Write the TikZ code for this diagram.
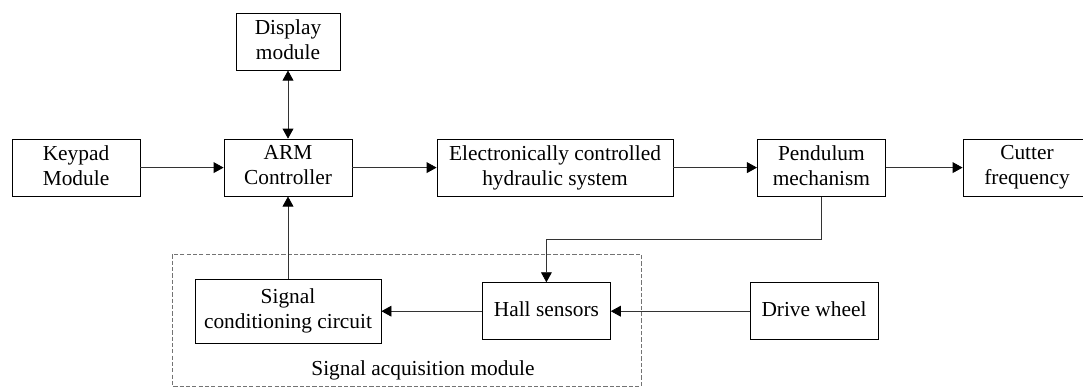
\documentclass[tikz,border=0pt]{standalone}
\usepackage{fontspec}
\setmainfont{Liberation Serif}
\usetikzlibrary{arrows.meta,positioning,calc}

\begin{document}
\begin{tikzpicture}[node distance=5.3cm,
    >={Triangle[length=0.25cm,width=0.27cm,color=black]},
    block/.style={rectangle, draw, line width=0.6pt, align=center, minimum width=3.2cm, minimum height=1.425cm, inner sep=2pt, font=\fontsize{15.2}{17.8}\selectfont, execute at end node=\vphantom{y}},
    link/.style={->, line width=0.6pt, draw=black!80},
    group/.style={draw=black!55, line width=0.6pt, dash pattern=on 3pt off 1.5pt}]
    \useasboundingbox (0,0) rectangle (27.075,-9.675);
    % main chain
    \node [block] (keypad) at (1.9,-4.19) {Keypad\\Module};
    \node [block, right of=keypad] (arm) {ARM\\Controller};
    \node [block, right of=arm, xshift=1.375cm, minimum width=5.9cm] (hydraulic) {Electronically controlled\\hydraulic system};
    \node [block, right of=hydraulic, xshift=1.36cm] (pendulum) {Pendulum\\mechanism};
    \node [block, right of=pendulum, xshift=-0.16cm] (cutter) {Cutter\\frequency};
    \node [block, node distance=3.15cm, above of=arm, minimum width=2.6cm] (display) {Display\\module};
    % feedback branch
    \node [block, node distance=3.59cm, below of=arm, minimum width=4.65cm, minimum height=1.6cm] (conditioning) {Signal\\conditioning circuit};
    \node [block, node distance=6.46cm, right of=conditioning] (hall) {Hall sensors};
    \node [block, node distance=6.69cm, right of=hall] (wheel) {Drive wheel};
    \draw[group] ($(conditioning.north west)+(-0.56,0.61)$) rectangle ($(hall.south east)+(0.76,-1.15)$);
    \node [font=\fontsize{15.2}{17.8}\selectfont] (acquisition) at (10.575,-9.25) {Signal acquisition module};
    \draw[link] (keypad) -- (arm);
    \draw[link, <->] (arm) -- (display);
    \draw[link] (arm) -- (hydraulic);
    \draw[link] (hydraulic) -- (pendulum);
    \draw[link] (pendulum) -- (cutter);
    \draw[link] (conditioning) -- (arm);
    \draw[link] (hall) -- (conditioning);
    \draw[link] (wheel) -- (hall);
    \draw[link] (pendulum.south) -- ++(0,-1.07) -| (hall.north);
\end{tikzpicture}
\end{document}
